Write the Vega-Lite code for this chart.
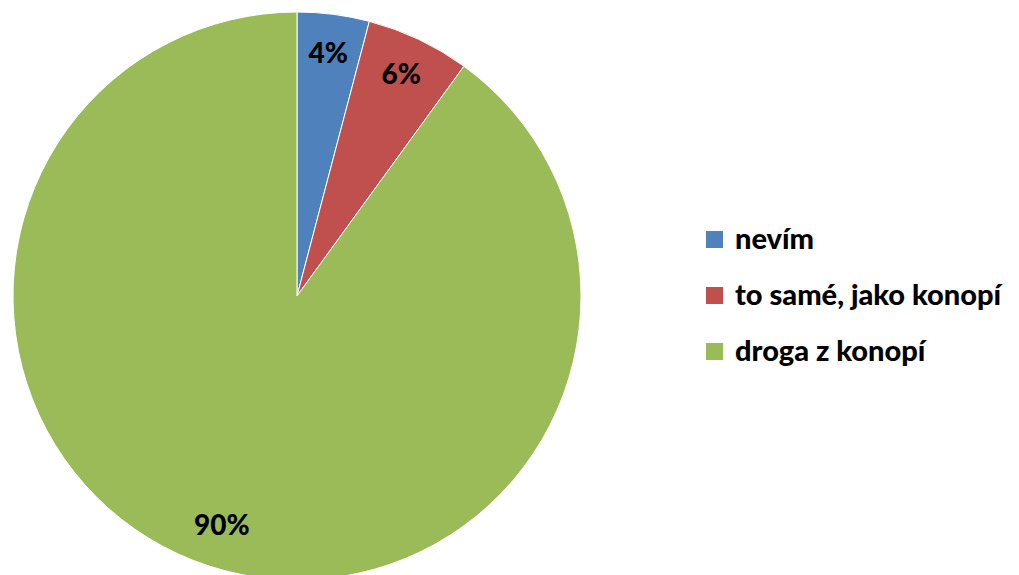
{
  "$schema": "https://vega.github.io/schema/vega-lite/v6.json",
  "autosize": "none",
  "width": 568,
  "height": 568,
  "padding": {"left": 13, "top": 12, "right": 438, "bottom": 0},
  "background": "white",
  "data": {"values": [
    {"kat": "nevím", "podil": 4.1, "label": "4%", "order": 1},
    {"kat": "to samé, jako konopí", "podil": 5.9, "label": "6%", "order": 2},
    {"kat": "droga z konopí", "podil": 90.0, "label": "90%", "order": 3}
  ]},
  "encoding": {
    "theta": {"field": "podil", "type": "quantitative", "stack": true},
    "order": {"field": "order", "type": "quantitative"}
  },
  "layer": [
    {
      "mark": {"type": "arc", "outerRadius": 284, "stroke": "white", "strokeWidth": 1},
      "encoding": {
        "color": {
          "field": "kat", "type": "nominal",
          "scale": {"domain": ["nevím", "to samé, jako konopí", "droga z konopí"], "range": ["#4F81BD", "#C0504D", "#9BBB59"]},
          "legend": {
            "title": null, "orient": "none", "legendX": 687, "legendY": 213,
            "symbolType": "square", "symbolSize": 289, "symbolStrokeWidth": 0,
            "labelFont": "Lato", "labelFontWeight": 900, "labelFontSize": 29, "labelColor": "black",
            "rowPadding": 26, "labelOffset": 6, "labelLimit": 400
          }
        }
      }
    },
    {
      "mark": {"type": "text", "radius": 243, "font": "Lato", "fontWeight": 900, "fontSize": 28, "color": "black"},
      "encoding": {"text": {"field": "label"}}
    }
  ]
}
